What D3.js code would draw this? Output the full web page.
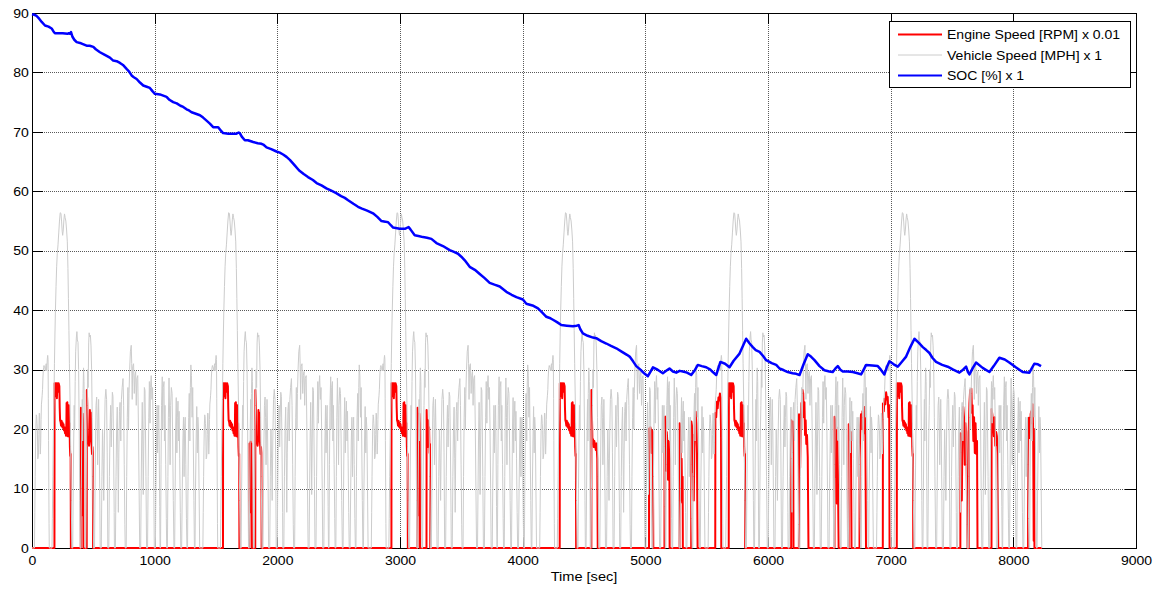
<!DOCTYPE html>
<html>
<head>
<meta charset="utf-8">
<script src="https://cdn.jsdelivr.net/npm/d3@7"></script>
<style>
  html, body { margin: 0; padding: 0; background: #fff; }
  svg { display: block; }
</style>
</head>
<body>
<svg id="chart" width="1156" height="590"></svg>
<script>
// ---- axis settings -------------------------------------------------------
const xTicks = [0, 1000, 2000, 3000, 4000, 5000, 6000, 7000, 8000, 9000];
const yTicks = [0, 10, 20, 30, 40, 50, 60, 70, 80, 90];
const xLabel = "Time [sec]";

// ---- legend --------------------------------------------------------------
const seriesNames = ["Engine Speed [RPM] x 0.01", "Vehicle Speed [MPH] x 1", "SOC [%] x 1"];
const seriesColors = ["#ff0000", "#cccccc", "#0000ff"];

// ---- vehicle speed: one urban drive cycle [s, mph], driven six times -----
const speedCycle = [
  [0,0],[20,0],[23,6],[26,12],[29,17],[32,20.7],[35,22.4],[38,22.1],[41,20.9],[44,19.8],[47,15],[50,15.2],
  [53,16],[56,19.1],[59,22.7],[62,22.6],[65,19],[68,15.8],[71,17.7],[74,21.6],[77,24.2],[80,24.9],[83,25.7],
  [86,26.7],[89,28.6],[92,29.8],[95,30.4],[98,30.7],[101,30.4],[104,30.4],[107,29.9],[110,29.8],[113,30.7],
  [116,31],[119,29.8],[122,30.7],[125,31.8],[128,32.4],[131,31.7],[133,25.1],[135,18.1],[137,11.1],[139,4.1],[141,0],
  [163,0],[166,5],[170,12],[175,20],[179,25],[183,31],[187,36],[191,40],[196,44],[201,47.3],[206,49.5],[212,51],
  [218,53],[224,55],[230,56.4],[236,56.3],[241,55],[246,53.3],[250,52.6],[255,53.5],[260,55.2],[265,56.2],
  [270,55.6],[276,55],[282,53.5],[288,51.5],[293,47],[297,42],[301,36.6],[305,31],[310,24.9],[315,17],[320,8],[325,0],
  [332,0],[336,10],[340,18],[344,24],[348,20],[352,28],[356,33],[362,35.5],[366,36.4],[370,35],[375,34.6],[380,30],
  [385,20],[389,8],[392,0],
  [398,0],[402,10],[406,20],[410,25],[413,18],[416,26],[420,30.3],[424,28],[428,18],[432,0],
  [438,0],[442,10],[446,20],[450,24],[454,30],[458,27],[462,34.5],[466,36.2],[470,35.5],[476,35.8],[481,34],
  [486,30],[491,22],[496,12],[502,0],
  [510,0],[514,10],[518,18],[522,24],[527,25.4],[531,22],[535,14],[539,20],[543,25],[547,20],[552,10],[556,0],
  [565,0],[570,12],[575,20],[580,15],[585,8],[590,18],[596,25],[602,26.7],[608,25],[613,16],[618,0],
  [626,0],[631,12],[636,20],[641,24],[646,17],[650,22],[655,26.2],[660,25.5],[665,17],[670,6],[672,0],
  [680,0],[685,12],[690,20],[695,23.7],[700,15],[704,6],[708,16],[713,23],[718,24.5],[724,18],[729,25],[735,27],
  [742,28.5],[747,24],[752,14],[757,4],[760,0],
  [768,0],[772,12],[777,22],[782,27],[787,20],[791,26],[796,30],[802,33],[809,34.1],[813,31],[817,25],[821,30.5],
  [828,31],[834,26],[839,29],[845,29.7],[850,24],[855,28.5],[862,29],[868,20],[873,10],[878,0],
  [886,0],[890,10],[894,18],[899,24.5],[903,18],[907,9],[911,17],[916,27],[921,26.5],[925,20],[929,12],[934,0],
  [942,0],[947,12],[952,22],[957,28],[962,21],[966,27],[972,29],[978,25],[983,27],[988,20],[993,10],[997,0],
  [1006,0],[1010,10],[1015,18],[1020,24],[1024,16],[1028,21],[1033,24],[1037,17],[1041,7],[1044,0],
  [1048,0],[1052,14],[1056,24],[1062,28.8],[1066,20],[1070,27],[1076,28],[1080,18],[1084,24],[1090,14],[1095,5],[1098,0],
  [1104,0],[1108,12],[1112,22],[1117,28.6],[1122,22],[1126,14],[1130,24],[1136,27],[1142,26],[1147,18],[1152,8],[1157,0],
  [1163,0],[1167,10],[1171,20],[1176,25.3],[1181,16],[1185,22],[1190,24.7],[1195,18],[1199,23],[1204,15],[1209,6],[1213,0],
  [1220,0],[1225,10],[1230,18],[1235,22],[1240,12],[1244,20],[1249,22],[1254,14],[1259,5],[1263,0],
  [1268,0],[1272,12],[1277,22],[1282,26],[1287,18],[1291,27],[1295,30.8],[1300,29],[1305,22],[1310,27],[1315,18],
  [1320,8],[1324,0],
  [1329,0],[1333,10],[1338,18],[1343,23.8],[1348,16],[1352,22],[1357,20],[1362,10],[1367,0],[1369,0]
];
const cycleStarts = [0, 1373, 2746, 4119, 5492, 6865];

// ---- engine speed bursts [s from burst start, rpm/100] -------------------
const highwayBurst = [
  [0,0],[1,27.7],[5,25.5],[8,27.7],[12,26],[16,27.7],[20,25.2],[24,27.7],[29,26.3],[34,27.7],[40,27.2],[43,23.5],
  [46,21.5],[50,21.2],[54,20.6],[58,21.4],[62,20.4],[66,21.1],[70,20.2],[74,20.8],[78,19.8],[82,20.3],[86,19.3],
  [90,19.8],[94,18.9],[97,20],[99,24.4],[102,19.2],[105,24.5],[108,18.8],[111,23.8],[114,19.5],[117,24],[120,18.7],
  [123,21],[126,17],[129,15.5],[132,15.8],[134,0]
];
const shortBurst = [[0,0],[1,23.6],[4,22.4],[6,19],[8,5.5],[10,20.5],[13,17.8],[16,22.6],[19,21],[21,0]];
const lowBurst = [[0,0],[1,17.6],[4,15.2],[7,6],[10,17.9],[13,16.5],[16,17.6],[19,12],[21,0]];
const longBurst = [
  [0,0],[1,26.6],[4,24.5],[7,18.5],[11,17.6],[15,18.6],[19,17.2],[23,18.2],[26,23.2],[30,20],[34,22.8],
  [38,18],[43,15.8],[47,17],[50,16],[52,0]
];
const tailBurst = [[0,0],[1,23.2],[5,20],[9,17],[13,21.5],[17,18.5],[21,20.3],[25,16],[28,17.5],[30,0]];
const climbBurst = [
  [0,0],[1,26.6],[5,22],[9,17.6],[14,18.3],[19,17],[24,18],[30,17.2],[36,16.5],[42,17.6],[48,15],[52,0]
];

const engineBursts = [
  [183, highwayBurst], [398, shortBurst], [446, longBurst],
  [1557, highwayBurst], [1772, lowBurst], [1820, longBurst],
  [2930, highwayBurst], [3142, shortBurst], [3216, tailBurst],
  [4302, highwayBurst], [4560, climbBurst],
  [5030, [[0,0],[1,20.1],[6,19.8],[11,20.3],[16,19.9],[21,16],[24,19.8],[28,19.5],[32,14],[35,0]]],
  [5156, [[0,0],[1,21.8],[6,22.1],[11,20.3],[15,13],[19,19.5],[24,17.5],[29,11.5],[34,18],[40,15],[42,0]]],
  [5279, [[0,0],[1,21],[5,20],[9,17.2],[13,8],[17,15],[21,7.6],[25,12],[27,0]]],
  [5374, [[0,0],[1,21.3],[6,20.6],[11,12.8],[16,19],[21,8],[26,17],[32,20.5],[37,22.9],[42,21],[47,16],[52,0]]],
  [5570, [[0,0],[1,22.7],[8,22],[14,24.6],[20,23.5],[26,25.3],[33,24.8],[38,26],[43,25.3],[47,20],[49,0]]],
  [5680, highwayBurst],
  [6189, [[0,0],[1,21.5],[7,21],[12,19],[16,21.3],[19,0]]],
  [6252, [[0,0],[1,22.5],[6,21.5],[10,13.5],[15,21],[20,24.4],[25,23.7],[30,26.6],[35,26],[40,22],[45,24.5],
          [50,19],[55,21.5],[60,17.5],[66,19],[72,15.3],[78,0]]],
  [6542, [[0,0],[1,22.1],[6,21.5],[11,12],[15,20.3],[19,7.5],[24,18],[29,10],[34,0]]],
  [6657, [[0,0],[1,20.8],[7,20.2],[13,18.2],[19,19.5],[24,0]]],
  [6746, [[0,0],[1,15],[6,19.3],[12,22.5],[18,20],[24,23],[30,21.5],[36,19.3],[42,23.7],[48,18.5],[53,0]]],
  [6936, [[0,0],[1,24.3],[8,23],[14,25.1],[21,24.2],[27,26.2],[34,25],[40,25.4],[46,22],[52,24],[55,0]]],
  [7050, highwayBurst],
  [7568, [[0,0],[1,19.3],[7,18],[12,8],[17,19],[24,23.7],[30,22],[36,14],[42,21],[48,19.5],[54,9],[59,0]]],
  [7636, [[0,0],[1,20],[6,24.3],[12,26.6],[17,25.8],[22,26.8],[27,22.7],[32,24],[38,18],[44,22],[50,16],
          [56,21],[62,15.8],[68,18],[72,0]]],
  [7822, [[0,0],[1,23.4],[7,22.4],[13,21],[19,18.8],[25,22],[31,17.2],[38,19.5],[44,18.8],[50,16],[55,0]]],
  [8120, [[0,0],[1,21.2],[7,21.9],[12,19.2],[16,18.5],[21,22.5],[26,23],[31,21],[37,24.2],[42,19],[46,1.2],
          [49,20],[52,0]]]
];
const runEnd = 8234;

// ---- battery state of charge [s, %] --------------------------------------
const socPoints = [
  [0,89.8],[20,89.7],[38,89.5],[60,89],[79,88.5],[106,87.9],[135,87.7],[160,87.4],[175,86.9],[187,86.6],[250,86.6],
  [290,86.5],[300,86.6],[310,86.5],[318,86.8],[330,86.0],[345,85.5],[364,85.1],[400,84.9],[445,84.5],[470,84.5],
  [500,84.3],[520,83.9],[554,83.4],[590,83],[635,82.5],[662,82],[690,81.9],[717,81.6],[745,81.2],[771,80.6],
  [790,80.2],[812,79.5],[830,79.2],[853,78.9],[880,78.3],[907,77.8],[935,77.6],[961,77.4],[980,76.9],[1002,76.4],
  [1043,76.3],[1070,76.1],[1097,75.9],[1120,75.4],[1151,75.0],[1180,74.8],[1210,74.4],[1233,74.2],[1260,73.8],
  [1280,73.6],[1301,73.3],[1330,73.1],[1369,72.8],[1395,72.4],[1423,71.9],[1450,71.4],[1477,70.8],[1500,70.8],
  [1518,70.8],[1540,70.2],[1558,69.8],[1600,69.7],[1640,69.7],[1667,69.7],[1685,69.9],[1694,69.8],[1710,69.2],
  [1735,68.6],[1760,68.6],[1803,68.3],[1840,68.1],[1871,68.0],[1890,67.8],[1912,67.4],[1950,67.1],[1993,66.7],
  [2020,66.5],[2047,66.2],[2075,65.8],[2102,65.3],[2140,64.4],[2178,63.5],[2215,62.9],[2250,62.4],[2290,61.9],
  [2320,61.4],[2360,61.0],[2400,60.5],[2440,60.1],[2480,59.7],[2520,59.2],[2550,58.9],[2577,58.5],[2620,57.9],
  [2658,57.4],[2690,57.1],[2727,56.8],[2750,56.6],[2780,56.3],[2815,55.7],[2849,55.0],[2880,54.9],[2903,54.8],
  [2925,54.3],[2944,53.9],[2998,53.7],[3040,53.7],[3070,54.0],[3085,53.6],[3120,52.6],[3150,52.5],[3188,52.3],
  [3220,52.2],[3256,52.0],[3297,51.3],[3350,50.8],[3405,50.1],[3440,49.8],[3473,49.5],[3500,49.0],[3528,48.4],
  [3568,47.3],[3610,46.8],[3650,46.1],[3690,45.4],[3731,44.6],[3770,44.3],[3813,44.0],[3867,43.1],[3910,42.6],
  [3949,42.2],[4002,41.8],[4030,41.1],[4080,40.8],[4125,40.3],[4160,39.6],[4193,38.9],[4220,38.7],[4247,38.4],
  [4280,38.0],[4315,37.5],[4360,37.4],[4410,37.3],[4440,37.4],[4456,37.5],[4470,36.8],[4491,36.1],[4530,35.7],
  [4573,35.4],[4600,35.3],[4640,34.8],[4682,34.4],[4720,34.0],[4763,33.6],[4810,33.0],[4850,32.5],[4872,32.2],
  [4900,31.4],[4926,30.6],[4960,30.0],[4990,29.4],[5021,28.9],[5040,29.6],[5062,30.4],[5100,30.0],[5143,29.4],
  [5170,29.8],[5197,30.2],[5225,29.7],[5252,29.5],[5280,29.8],[5306,29.7],[5340,29.5],[5374,29.1],[5400,29.8],
  [5428,30.8],[5460,30.6],[5496,30.4],[5530,30.0],[5550,29.6],[5578,29.1],[5595,30.2],[5612,31.3],[5650,31.0],
  [5686,30.4],[5720,31.5],[5768,32.7],[5800,34.2],[5822,35.2],[5850,34.4],[5876,33.8],[5900,33.3],[5931,33.0],
  [5960,32.3],[5985,31.6],[6030,31.1],[6067,30.8],[6094,30.2],[6130,29.9],[6161,29.6],[6200,29.4],[6230,29.3],
  [6257,29.1],[6290,30.9],[6324,32.6],[6350,32.2],[6379,31.6],[6420,30.6],[6460,29.9],[6500,29.7],[6528,29.6],
  [6550,30.2],[6569,30.6],[6590,30.0],[6610,29.7],[6650,29.7],[6691,29.6],[6730,29.4],[6759,29.2],[6780,30.0],
  [6800,30.8],[6850,30.7],[6895,30.6],[6920,30.0],[6949,29.2],[6970,30.5],[6990,31.4],[7025,30.9],[7058,30.5],
  [7090,31.3],[7126,32.2],[7160,33.8],[7194,35.2],[7230,34.5],[7262,33.8],[7290,33.3],[7316,32.8],[7340,32.0],
  [7370,31.3],[7420,30.8],[7465,30.5],[7510,30.0],[7560,29.5],[7590,30.0],[7615,30.5],[7630,29.6],[7642,29.2],
  [7670,30.3],[7696,31.2],[7750,30.3],[7805,29.6],[7840,30.6],[7886,32.0],[7930,31.7],[7967,31.2],[8020,30.4],
  [8076,29.6],[8131,29.5],[8150,30.2],[8171,31.0],[8200,30.9],[8226,30.6]
];

// ---- assemble series ------------------------------------------------------
const vehicleSeries = cycleStarts.flatMap(s => speedCycle.map(([t, v]) => [s + t, v]));
const engineSeries = [[0, 0]]
  .concat(engineBursts.flatMap(([s, shape]) => shape.map(([t, v]) => [s + t, v])))
  .concat([[runEnd, 0]]);

// ---- drawing ---------------------------------------------------------------
const svg = d3.select("#chart");
svg.append("rect").attr("width", 1156).attr("height", 590).attr("fill", "#fff");

const x = d3.scaleLinear().domain([0, 9000]).range([32, 1136]);
const y = d3.scaleLinear().domain([0, 90]).range([548, 13]);
const FONT = "'Liberation Sans', Arial, Helvetica, sans-serif";
const stretch = "scale(1.08,1)";

// grid (dotted)
const grid = svg.append("g").attr("shape-rendering", "crispEdges");
grid.selectAll("line.gx").data(xTicks.slice(1, -1)).join("line")
  .attr("x1", d => Math.round(x(d)) + 0.5).attr("x2", d => Math.round(x(d)) + 0.5)
  .attr("y1", y(90)).attr("y2", y(0))
  .attr("stroke", "#5a5a5a").attr("stroke-width", 1).attr("stroke-dasharray", "1,1");
grid.selectAll("line.gy").data(yTicks.slice(1, -1)).join("line")
  .attr("y1", d => Math.round(y(d)) + 0.5).attr("y2", d => Math.round(y(d)) + 0.5)
  .attr("x1", x(0)).attr("x2", x(9000))
  .attr("stroke", "#5a5a5a").attr("stroke-width", 1).attr("stroke-dasharray", "1,1");

// axes with inward ticks on all four sides
const axisStyle = g => {
  g.select(".domain").remove();
  g.selectAll(".tick line").attr("stroke", "#000").attr("shape-rendering", "crispEdges");
  g.selectAll("text").attr("fill", "#000").attr("font-family", FONT).attr("font-size", 13);
};
svg.append("g").attr("transform", `translate(0,${y(0)})`)
  .call(d3.axisBottom(x).tickValues(xTicks).tickSizeInner(-11).tickSizeOuter(0).tickPadding(8).tickFormat(d3.format("d")))
  .call(axisStyle)
  .call(g => g.selectAll("text").attr("transform", stretch));
svg.append("g").attr("transform", `translate(0,${y(90)})`)
  .call(d3.axisTop(x).tickValues(xTicks).tickSizeInner(-11).tickSizeOuter(0).tickFormat(""))
  .call(axisStyle);
svg.append("g").attr("transform", `translate(${x(0)},0)`)
  .call(d3.axisLeft(y).tickValues(yTicks).tickSizeInner(-11).tickSizeOuter(0).tickPadding(3).tickFormat(d3.format("d")))
  .call(axisStyle)
  .call(g => g.selectAll("text").attr("transform", stretch));
svg.append("g").attr("transform", `translate(${x(9000)},0)`)
  .call(d3.axisRight(y).tickValues(yTicks).tickSizeInner(-11).tickSizeOuter(0).tickFormat(""))
  .call(axisStyle);

// frame
svg.append("rect")
  .attr("x", x(0) + 0.5).attr("y", y(90) + 0.5)
  .attr("width", x(9000) - x(0)).attr("height", y(0) - y(90))
  .attr("fill", "none").attr("stroke", "#000").attr("stroke-width", 1)
  .attr("shape-rendering", "crispEdges");

// x label
svg.append("text")
  .attr("transform", `translate(${(x(0) + x(9000)) / 2},581) ${stretch}`)
  .attr("text-anchor", "middle")
  .attr("font-family", FONT).attr("font-size", 13.5).attr("fill", "#000")
  .text(xLabel);

// data lines
const line = d3.line().x(d => x(d[0])).y(d => y(d[1]));
svg.append("path").datum(engineSeries).attr("d", line)
  .attr("fill", "none").attr("stroke", seriesColors[0]).attr("stroke-width", 2).attr("stroke-linejoin", "round");
svg.append("path").datum(vehicleSeries).attr("d", line)
  .attr("fill", "none").attr("stroke", seriesColors[1]).attr("stroke-width", 1).attr("stroke-linejoin", "round");
svg.append("path").datum(socPoints).attr("d", line)
  .attr("fill", "none").attr("stroke", seriesColors[2]).attr("stroke-width", 2.5).attr("stroke-linejoin", "round");

// legend
const lg = svg.append("g");
lg.append("rect").attr("x", 889.5).attr("y", 21.5).attr("width", 241).attr("height", 66)
  .attr("fill", "#fff").attr("stroke", "#000").attr("stroke-width", 1).attr("shape-rendering", "crispEdges");
const rowsY = [34.5, 55, 75.5];
const widths = [2, 1, 2];
seriesNames.forEach((name, i) => {
  lg.append("line").attr("x1", 898).attr("x2", 942).attr("y1", rowsY[i]).attr("y2", rowsY[i])
    .attr("stroke", seriesColors[i]).attr("stroke-width", widths[i]);
  lg.append("text")
    .attr("transform", `translate(947,${rowsY[i]}) ${stretch}`)
    .attr("dy", "0.35em")
    .attr("font-family", FONT).attr("font-size", 13).attr("fill", "#000")
    .text(name);
});
</script>
</body>
</html>
